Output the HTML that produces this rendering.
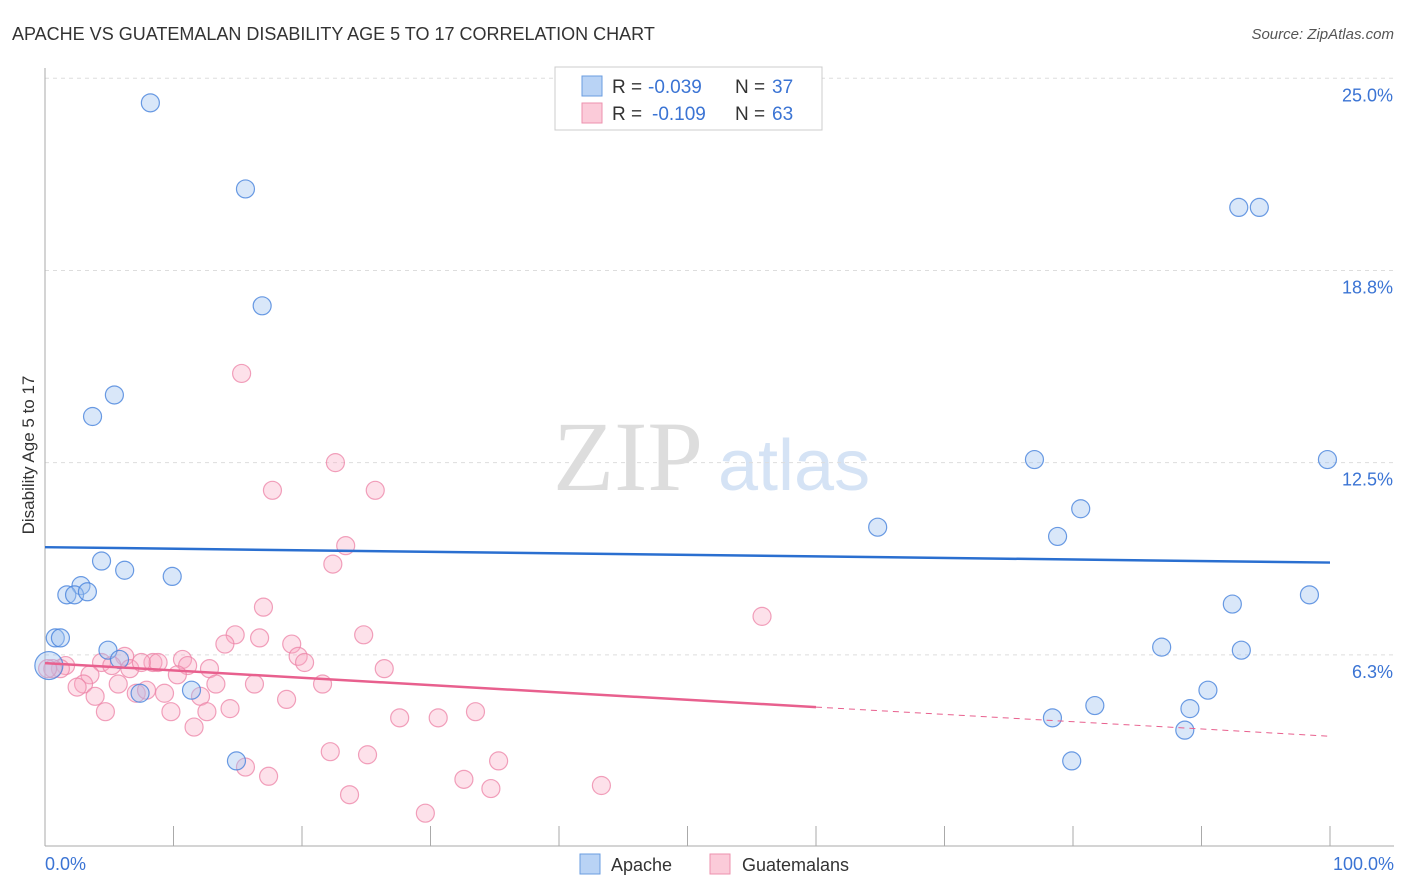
<!DOCTYPE html>
<html><head><meta charset="utf-8"><style>
body{margin:0;background:#fff;font-family:"Liberation Sans",sans-serif}
</style></head><body>
<svg id="c" width="1406" height="892" viewBox="0 0 1406 892" xmlns="http://www.w3.org/2000/svg" style="display:block">
<text x="12" y="40" font-size="18" fill="#333">APACHE VS GUATEMALAN DISABILITY AGE 5 TO 17 CORRELATION CHART</text>
<text x="1394" y="39" font-size="15" fill="#555" text-anchor="end" font-style="italic">Source: ZipAtlas.com</text>
<text x="553" y="490" font-size="100" fill="#ddd" font-family="Liberation Serif">ZIP</text>
<text x="718" y="490" font-size="72" fill="#d5e3f5">atlas</text>
<g id="grid"></g>
<line x1="45" y1="68" x2="45" y2="846" stroke="#aaa"/>
<line x1="45" y1="846" x2="1394" y2="846" stroke="#aaa"/>
<g id="ticks"></g>
<text x="34" y="455" font-size="17" fill="#333" text-anchor="middle" transform="rotate(-90 34 455)">Disability Age 5 to 17</text>
<text x="45" y="870" font-size="18" fill="#3b74d4">0.0%</text>
<text x="1394" y="870" font-size="18" fill="#3b74d4" text-anchor="end">100.0%</text>
<g id="pts"></g>
<g id="trends"></g>
<g>
<rect x="555" y="67" width="267" height="63" fill="#fff" stroke="#ccc"/>
<rect x="582" y="76" width="20" height="20" fill="#b9d3f5" stroke="#6a9de0"/>
<rect x="582" y="103" width="20" height="20" fill="#fbcbd9" stroke="#ec92ae"/>
<text x="612" y="93" font-size="19" fill="#333">R =</text>
<text x="648" y="93" font-size="19" fill="#3b74d4">-0.039</text>
<text x="735" y="93" font-size="19" fill="#333">N =</text>
<text x="772" y="93" font-size="19" fill="#3b74d4">37</text>
<text x="612" y="120" font-size="19" fill="#333">R =</text>
<text x="652" y="120" font-size="19" fill="#3b74d4">-0.109</text>
<text x="735" y="120" font-size="19" fill="#333">N =</text>
<text x="772" y="120" font-size="19" fill="#3b74d4">63</text>
</g>
<g>
<rect x="580" y="854" width="20" height="20" fill="#b9d3f5" stroke="#6a9de0"/>
<text x="611" y="871" font-size="18" fill="#333">Apache</text>
<rect x="710" y="854" width="20" height="20" fill="#fbcbd9" stroke="#ec92ae"/>
<text x="742" y="871" font-size="18" fill="#333">Guatemalans</text>
</g>
</svg>
<script>
const yTicks=[6.25,12.5,18.75,25];
const yTickLabels=["6.3%","12.5%","18.8%","25.0%"];
const apacheX=[8.2,15.6,16.9,5.4,3.7,4.4,6.2,9.9,2.8,1.7,2.3,3.3,0.8,1.2,4.9,5.8,7.4,11.4,14.9,64.8,77.0,78.8,80.6,92.9,94.5,99.8,92.4,98.4,86.9,93.1,90.5,89.1,81.7,78.4,88.7,79.9,0.3];
const apacheY=[24.2,21.4,17.6,14.7,14.0,9.3,9.0,8.8,8.5,8.2,8.2,8.3,6.8,6.8,6.4,6.1,5.0,5.1,2.8,10.4,12.6,10.1,11.0,20.8,20.8,12.6,7.9,8.2,6.5,6.4,5.1,4.5,4.6,4.2,3.8,2.8,5.9];
const guatX=[15.3,22.6,17.7,25.7,23.4,22.4,17.0,55.8,14.8,16.7,24.8,19.2,14.0,19.7,20.2,26.4,12.8,10.7,11.1,10.3,8.4,8.8,6.2,6.6,7.5,4.4,5.2,3.5,1.6,1.2,0.6,0.2,3.0,2.5,3.9,5.7,7.1,7.9,9.3,12.1,13.3,16.3,21.6,18.8,4.7,9.8,12.6,14.4,11.6,27.6,30.6,33.5,22.2,25.1,35.3,15.6,17.4,32.6,34.7,43.3,23.7,29.6];
const guatY=[15.4,12.5,11.6,11.6,9.8,9.2,7.8,7.5,6.9,6.8,6.9,6.6,6.6,6.2,6.0,5.8,5.8,6.1,5.9,5.6,6.0,6.0,6.2,5.8,6.0,6.0,5.9,5.6,5.9,5.8,5.8,5.8,5.3,5.2,4.9,5.3,5.0,5.1,5.0,4.9,5.3,5.3,5.3,4.8,4.4,4.4,4.4,4.5,3.9,4.2,4.2,4.4,3.1,3.0,2.8,2.6,2.3,2.2,1.9,2.0,1.7,1.1];
const apacheTrend=[9.75,9.25];
const guatTrend=[5.98,4.55,3.6];
const X0=45,X1=1330,Y0=847,K=30.75;
const sx=v=>X0+(X1-X0)*v/100, sy=v=>Y0-v*K;
const NS="http://www.w3.org/2000/svg";
function mk(t,a,p){const e=document.createElementNS(NS,t);for(const k in a)e.setAttribute(k,a[k]);p.appendChild(e);return e;}
const grid=document.getElementById('grid'),ticks=document.getElementById('ticks'),pts=document.getElementById('pts'),tr=document.getElementById('trends');
yTicks.forEach((v,i)=>{
 const l=mk('line',{x1:45,x2:1394,y1:sy(v),y2:sy(v),stroke:'#ddd','stroke-dasharray':'4 4'},grid);
 
 
 const t=mk('text',{x:1393,y:sy(v)+23,'font-size':18,fill:'#3b74d4','text-anchor':'end'},ticks);
 t.textContent=yTickLabels[i];
 
 
});
for(let i=1;i<=10;i++){const tk=mk('line',{x1:sx(i*10),x2:sx(i*10),y1:826,y2:846,stroke:'#aaa'},ticks);
 
 }
guatX.forEach((v,i)=>{const c=mk('circle',{cx:sx(v),cy:sy(guatY[i]),r:9,fill:'rgba(248,170,195,0.35)',stroke:'rgba(236,130,165,0.75)','stroke-width':1.2},pts);
 
 });
apacheX.forEach((v,i)=>{const c=mk('circle',{cx:sx(v),cy:sy(apacheY[i]),r:i==36?14:9,fill:'rgba(160,195,240,0.4)',stroke:'rgba(70,130,220,0.8)','stroke-width':1.2},pts);
 
 });
let a=mk('line',{x1:sx(0),y1:sy(apacheTrend[0]),x2:sx(100),y2:sy(apacheTrend[1]),stroke:'#2a6fd0','stroke-width':2.5},tr);


let g=mk('line',{x1:sx(0),y1:sy(guatTrend[0]),x2:sx(60),y2:sy(guatTrend[1]),stroke:'#e8608e','stroke-width':2.5},tr);


let gd=mk('line',{x1:sx(60),y1:sy(guatTrend[1]),x2:sx(100),y2:sy(guatTrend[2]),stroke:'#e8608e','stroke-width':1,'stroke-dasharray':'6 5'},tr);


</script>
</body></html>
